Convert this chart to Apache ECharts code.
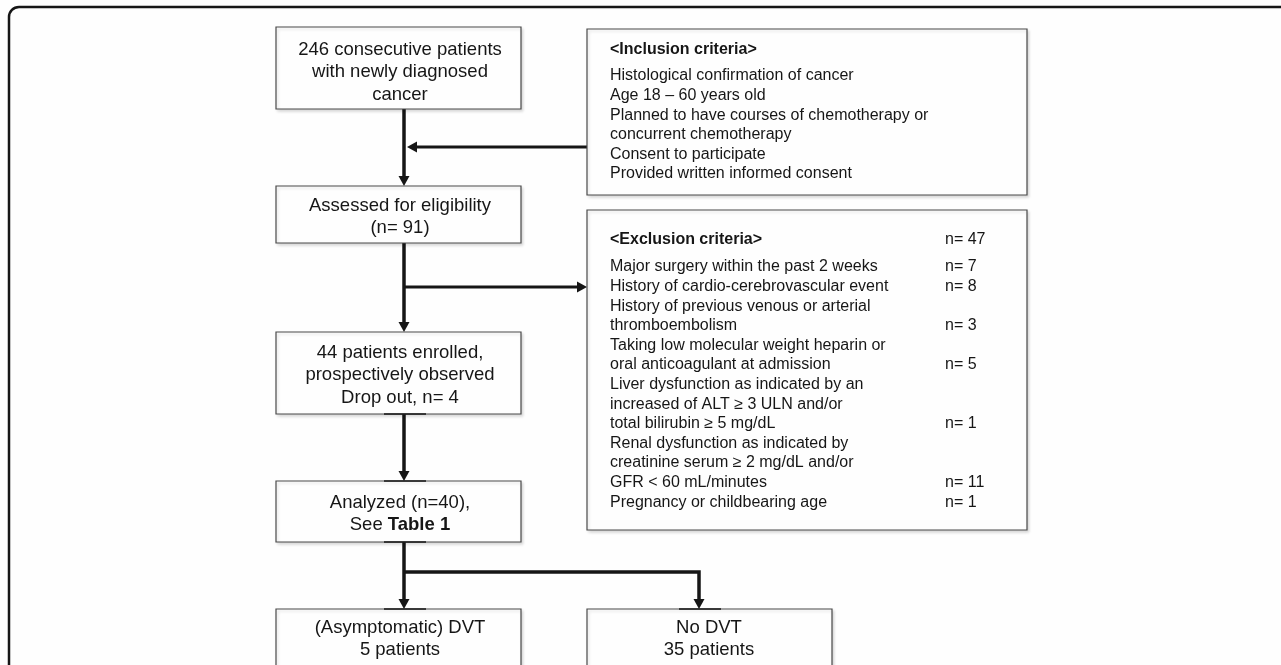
<!DOCTYPE html>
<html>
<head>
<meta charset="utf-8">
<script src="https://cdn.jsdelivr.net/npm/echarts@6/dist/echarts.min.js"></script>
<style>
  html, body { margin: 0; padding: 0; background: #fefefe; }
  #chart { width: 1281px; height: 665px; }
</style>
</head>
<body>
<div id="chart"></div>
<script>
// flow steps (left column), one string per text line
const flowSteps = [
  ['246 consecutive patients', 'with newly diagnosed', 'cancer'],
  ['Assessed for eligibility', '(n= 91)'],
  ['44 patients enrolled,', 'prospectively observed', 'Drop out, n= 4'],
  ['Analyzed (n=40),', 'See {b|Table 1}'],
  ['(Asymptomatic) DVT', '5 patients']
];
const noDvtStep = ['No DVT', '35 patients'];

const inclusionTitle = '<Inclusion criteria>';
const inclusionCriteria = [
  'Histological confirmation of cancer',
  'Age 18 \u2013 60 years old',
  'Planned to have courses of chemotherapy or\nconcurrent chemotherapy',
  'Consent to participate',
  'Provided written informed consent'
];

const exclusionTitle = '<Exclusion criteria>';
const exclusionTotal = 47;
const exclusionCriteria = [
  'Major surgery within the past 2 weeks',
  'History of cardio-cerebrovascular event',
  'History of previous venous or arterial\nthromboembolism',
  'Taking low molecular weight heparin or\noral anticoagulant at admission',
  'Liver dysfunction as indicated by an\nincreased of ALT \u2265 3 ULN and/or\ntotal bilirubin \u2265 5 mg/dL',
  'Renal dysfunction as indicated by\ncreatinine serum \u2265 2 mg/dL and/or\nGFR < 60 mL/minutes',
  'Pregnancy or childbearing age'
];
const exclusionCounts = [7, 8, 3, 5, 1, 11, 1];

const FONT = '"Liberation Sans", Arial, Helvetica, sans-serif';
const ink = '#161616';
const els = [];

function txt(x, y, s, size, opts) {
  opts = opts || {};
  els.push({
    type: 'text', x: x, y: y, silent: true,
    style: {
      text: s,
      font: (opts.bold ? 'bold ' : '') + size + 'px ' + FONT,
      fill: ink,
      align: opts.align || 'center', textAlign: opts.align || 'center',
      verticalAlign: 'middle', textVerticalAlign: 'middle',
      rich: { b: { fontWeight: 'bold', fontSize: size, fontFamily: FONT, fill: ink } }
    }
  });
}
function box(x, y, w, h) {
  els.push({
    type: 'rect', silent: true,
    shape: { x: x, y: y, width: w, height: h },
    style: {
      fill: '#fefefe', stroke: '#4a4a4a', lineWidth: 1.2,
      shadowBlur: 3, shadowOffsetX: 1.5, shadowOffsetY: 2, shadowColor: 'rgba(0,0,0,0.15)'
    }
  });
}
function seg(pts, w) {
  els.push({
    type: 'polyline', silent: true,
    shape: { points: pts },
    style: { stroke: ink, lineWidth: w || 3.5, fill: null }
  });
}
function head(x, y, dir) {
  const s = 5.5, l = 10;
  let pts;
  if (dir === 'down') pts = [[x - s, y - l], [x + s, y - l], [x, y]];
  else if (dir === 'left') pts = [[x + l, y - s], [x + l, y + s], [x, y]];
  else pts = [[x - l, y - s], [x - l, y + s], [x, y]];
  els.push({ type: 'polygon', silent: true, shape: { points: pts }, style: { fill: ink } });
}
function glue(x, y) {
  seg([[x - 20, y], [x + 22, y]], 1.6);
}

// outer frame
els.push({
  type: 'rect', silent: true,
  shape: { x: 9, y: 7, width: 1320, height: 720, r: [10, 0, 0, 0] },
  style: { fill: null, stroke: '#161616', lineWidth: 2.5 }
});

// left column boxes
const colX = 276, colW = 245, textX = 400, lineX = 404;
const stepBoxes = [[27, 82], [186, 57], [332, 82], [481, 61], [609, 90]];
const stepFirstLine = [50, 206, 353, 503, 628];
const lh = 22.3;
const boxFont = 18.5, critFont = 16;

// connectors first so boxes sit over them
seg([[lineX, 109], [lineX, 180]]);
head(lineX, 186, 'down');
seg([[587, 147], [lineX + 8, 147]], 3);
head(lineX + 3, 147, 'left');

seg([[lineX, 243], [lineX, 326]]);
head(lineX, 332, 'down');
seg([[lineX, 287], [580, 287]], 3);
head(587, 287, 'right');

seg([[lineX, 414], [lineX, 475]]);
head(lineX, 481, 'down');

seg([[lineX, 542], [lineX, 603]]);
head(lineX, 609, 'down');
seg([[lineX, 572], [699, 572], [699, 603]]);
head(699, 609, 'down');

stepBoxes.forEach(function (b, i) {
  box(colX, b[0], colW, b[1]);
  flowSteps[i].forEach(function (line, j) {
    txt(textX, stepFirstLine[i] + j * lh, line, boxFont);
  });
});
box(587, 609, 245, 90);
noDvtStep.forEach(function (line, j) {
  txt(709, 628 + j * lh, line, boxFont);
});

glue(lineX, 414); glue(lineX, 481); glue(lineX, 542); glue(lineX, 609); glue(699, 609);

// inclusion box
box(587, 29, 440, 166);
txt(610, 50, inclusionTitle, critFont, { align: 'left', bold: true });
let row = 0;
inclusionCriteria.forEach(function (c) {
  c.split('\n').forEach(function (line) {
    txt(610, 76 + row * 19.6, line, critFont, { align: 'left' });
    row++;
  });
});

// exclusion box
box(587, 210, 440, 320);
txt(610, 240, exclusionTitle, critFont, { align: 'left', bold: true });
txt(945, 240, 'n= ' + exclusionTotal, critFont, { align: 'left' });
row = 0;
exclusionCriteria.forEach(function (c, i) {
  const lines = c.split('\n');
  lines.forEach(function (line, j) {
    const y = 267 + row * 19.6;
    txt(610, y, line, critFont, { align: 'left' });
    if (j === lines.length - 1) txt(945, y, 'n= ' + exclusionCounts[i], critFont, { align: 'left' });
    row++;
  });
});

const chart = echarts.init(document.getElementById('chart'));
chart.setOption({
  backgroundColor: '#fefefe',
  animation: false,
  graphic: { elements: els }
});
</script>
</body>
</html>
